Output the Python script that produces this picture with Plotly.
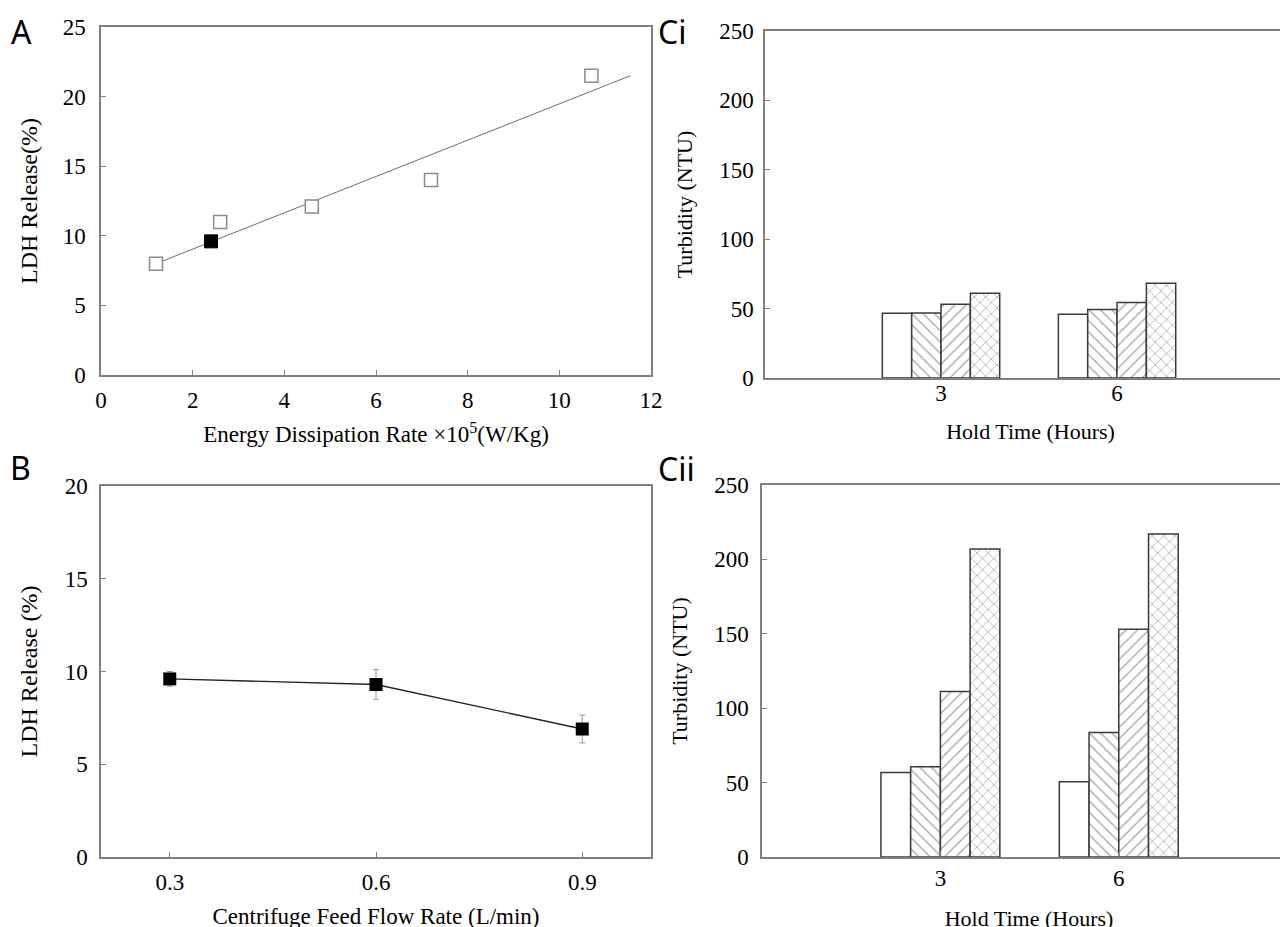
import plotly.graph_objects as go

W, H = 1288, 927
PAGE_OFF = 8  # browser body margin

# ---- Panel A data ----
a_energy_open = [1.2, 2.6, 4.6, 7.2, 10.7]
a_ldh_open = [8.0, 11.0, 12.1, 14.0, 21.5]
a_energy_filled = [2.4]
a_ldh_filled = [9.6]
a_fit_x = [1.2, 11.55]
a_fit_y = [8.0, 21.5]

# ---- Panel B data ----
b_flow = [0.3, 0.6, 0.9]
b_ldh = [9.6, 9.3, 6.9]
b_err = [0.4, 0.8, 0.75]

# ---- Panel C data ----
hold_time = [3, 6]
ci_series = [
    [46.7, 46.0],
    [46.9, 49.3],
    [53.2, 54.4],
    [61.1, 68.2],
]
cii_series = [
    [56.8, 50.6],
    [60.7, 83.7],
    [111.2, 153.1],
    [207.0, 217.1],
]
patterns = ["", "\\", "/", "x"]
bar_offsets = [-0.75, -0.25, 0.25, 0.75]

def px_x(p):
    return (p - PAGE_OFF) / W

def px_y(p):
    return 1 - (p - PAGE_OFF) / H

fig = go.Figure()

# Panel A
fig.add_trace(go.Scatter(x=a_fit_x, y=a_fit_y, mode="lines",
                         line=dict(color="#6e6e6e", width=1),
                         xaxis="x", yaxis="y", showlegend=False))
fig.add_trace(go.Scatter(x=a_energy_open, y=a_ldh_open, mode="markers",
                         marker=dict(symbol="square", size=13, color="white",
                                     line=dict(color="#8a8a8a", width=1.5)),
                         xaxis="x", yaxis="y", showlegend=False))
fig.add_trace(go.Scatter(x=a_energy_filled, y=a_ldh_filled, mode="markers",
                         marker=dict(symbol="square", size=13, color="black",
                                     line=dict(color="black", width=1)),
                         xaxis="x", yaxis="y", showlegend=False))

# Panel B
fig.add_trace(go.Scatter(x=b_flow, y=b_ldh, mode="lines+markers",
                         line=dict(color="#222222", width=1.3),
                         marker=dict(symbol="square", size=13, color="black"),
                         error_y=dict(type="data", array=b_err, color="#999999",
                                      thickness=1, width=3),
                         xaxis="x2", yaxis="y2", showlegend=False))

# Panel Ci / Cii
for series_set, xa, ya in [(ci_series, "x3", "y3"), (cii_series, "x4", "y4")]:
    for vals, pat, off in zip(series_set, patterns, bar_offsets):
        fig.add_trace(go.Bar(
            x=hold_time, y=vals, width=0.5, offset=off - 0.25,
            marker=dict(color="white",
                        line=dict(color="#3a3a3a", width=1.5),
                        pattern=dict(shape=pat, fgcolor="#555555", bgcolor="white",
                                     size=8, solidity=0.18)),
            xaxis=xa, yaxis=ya, showlegend=False))

serif = "Liberation Serif, Times New Roman, serif"
axis_common = dict(showline=True, linecolor="#7f7f7f", linewidth=1.5, mirror=True,
                   showgrid=False, zeroline=False, ticks="inside", ticklen=5,
                   tickcolor="#7f7f7f", automargin=False,
                   tickfont=dict(family=serif, size=23, color="black"))
tfA = dict(family=serif, size=23, color="black")
tfAy = dict(family=serif, size=24, color="black")
tfC = dict(family=serif, size=22, color="black")

fig.update_layout(
    width=W, height=H,
    margin=dict(l=0, r=0, t=0, b=0),
    paper_bgcolor="white", plot_bgcolor="white",
    barmode="overlay",
    font=dict(family=serif, color="black"),
    xaxis=dict(domain=[px_x(101), px_x(651)], anchor="y", range=[0, 12],
               tickvals=[0, 2, 4, 6, 8, 10, 12], ticklabelstandoff=4,
               title=dict(text="Energy Dissipation Rate \u00d710<sup>5</sup>(W/Kg)",
                          font=tfA, standoff=14),
               **axis_common),
    yaxis=dict(domain=[px_y(375), px_y(27)], anchor="x", range=[0, 25],
               tickvals=[0, 5, 10, 15, 20, 25], ticklabelstandoff=9,
               title=dict(text="LDH Release(%)", font=tfAy, standoff=18),
               **axis_common),
    xaxis2=dict(domain=[px_x(101), px_x(651)], anchor="y2", range=[0.2, 1.0],
                tickvals=[0.3, 0.6, 0.9], ticktext=["0.3", "0.6", "0.9"],
                ticklabelstandoff=4,
                title=dict(text="Centrifuge Feed Flow Rate (L/min)",
                           font=tfA, standoff=14),
                **axis_common),
    yaxis2=dict(domain=[px_y(857), px_y(486)], anchor="x2", range=[0, 20],
                tickvals=[0, 5, 10, 15, 20], ticklabelstandoff=7,
                title=dict(text="LDH Release (%)", font=tfAy, standoff=20),
                **axis_common),
    xaxis3=dict(domain=[px_x(765), 1.0], anchor="y3", range=[0, 9.05],
                tickvals=[3, 6], ticklabelstandoff=-6,
                title=dict(text="Hold Time (Hours)", font=tfC, standoff=18),
                **axis_common),
    yaxis3=dict(domain=[px_y(378), px_y(31)], anchor="x3", range=[0, 250],
                tickvals=[0, 50, 100, 150, 200, 250], ticklabelstandoff=5,
                title=dict(text="Turbidity (NTU)", font=tfC, standoff=20),
                **axis_common),
    xaxis4=dict(domain=[px_x(762), 1.0], anchor="y4", range=[0, 8.98],
                tickvals=[3, 6], ticklabelstandoff=0,
                title=dict(text="Hold Time (Hours)", font=tfC, standoff=20),
                **axis_common),
    yaxis4=dict(domain=[px_y(857), px_y(485)], anchor="x4", range=[0, 250],
                tickvals=[0, 50, 100, 150, 200, 250], ticklabelstandoff=7,
                title=dict(text="Turbidity (NTU)", font=tfC, standoff=20),
                **axis_common),
)

panel_font = dict(family="Noto Sans, DejaVu Sans, sans-serif", size=32, color="black")
for txt, x, y in [("A", 2, 23), ("B", 1, 459), ("Ci", 649, 23), ("Cii", 649, 460)]:
    fig.add_annotation(text=txt, x=x / W, y=1 - y / H, xref="paper", yref="paper",
                       xanchor="left", yanchor="middle", showarrow=False,
                       borderpad=0, font=panel_font)

fig.write_html("out.html")
